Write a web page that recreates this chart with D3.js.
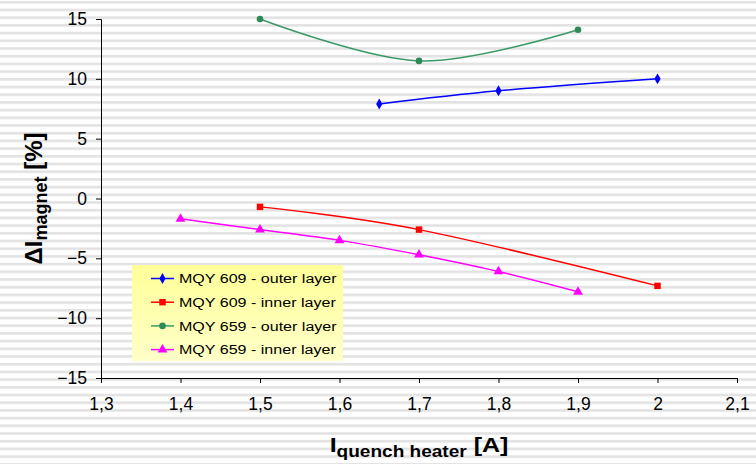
<!DOCTYPE html>
<html>
<head>
<meta charset="utf-8">
<script src="https://cdn.jsdelivr.net/npm/d3@7"></script>
<style>
  body { margin: 0; background: #fff; }
  svg { display: block; font-family: "Liberation Sans", Arial, sans-serif; }
</style>
</head>
<body>
<svg id="chart"></svg>
<script>
// Data
const seriesNames = [
  "MQY 609 - outer layer",
  "MQY 609 - inner layer",
  "MQY 659 - outer layer",
  "MQY 659 - inner layer"
];
const outer609 = [[1.65, 7.9], [1.8, 9.0], [2.0, 10.0]];
const inner609 = [[1.5, -0.7], [1.7, -2.6], [2.0, -7.3]];
const outer659 = [[1.5, 15.0], [1.7, 11.5], [1.9, 14.1]];
const inner659 = [[1.4, -1.7], [1.5, -2.6], [1.6, -3.5], [1.7, -4.7], [1.8, -6.1], [1.9, -7.8]];
const xTicks = [1.3, 1.4, 1.5, 1.6, 1.7, 1.8, 1.9, 2.0, 2.1];
const yTicks = [-15, -10, -5, 0, 5, 10, 15];

const W = 756, H = 464;
const margin = { top: 19, right: 19, bottom: 86, left: 101 };
const width = W - margin.left - margin.right;
const height = H - margin.top - margin.bottom;
const stretch = 1.19; // legend and x title text is widened horizontally

const svg = d3.select("#chart").attr("width", W).attr("height", H);

// Striped background
const defs = svg.append("defs");
const pat = defs.append("pattern")
  .attr("id", "stripes")
  .attr("patternUnits", "userSpaceOnUse")
  .attr("width", 10).attr("height", 7.7);
pat.append("rect").attr("width", 10).attr("height", 7.7).attr("fill", "#fff");
pat.append("rect").attr("y", 1).attr("width", 10).attr("height", 2.6).attr("fill", "#e2e2e2");

const legGrad = defs.append("linearGradient")
  .attr("id", "legGrad").attr("x1", 0).attr("y1", 0).attr("x2", 0).attr("y2", 1);
legGrad.append("stop").attr("offset", "0%").attr("stop-color", "#ffff99");
legGrad.append("stop").attr("offset", "100%").attr("stop-color", "#ffffc8");

svg.append("rect").attr("width", W).attr("height", H).attr("fill", "url(#stripes)");

const g = svg.append("g").attr("transform", `translate(${margin.left},${margin.top})`);

const x = d3.scaleLinear().domain([1.3, 2.1]).range([0, width]);
const y = d3.scaleLinear().domain([-15, 15]).range([height, 0]);

const fmt = d => String(+d.toFixed(1)).replace(".", ",");

// Axes
const xAxis = g.append("g")
  .attr("transform", `translate(0,${height})`)
  .call(d3.axisBottom(x).tickValues(xTicks).tickFormat(fmt).tickSize(5).tickSizeOuter(5).tickPadding(15));
const yAxis = g.append("g")
  .call(d3.axisLeft(y).tickValues(yTicks).tickSize(5).tickSizeOuter(5).tickPadding(9));

[xAxis, yAxis].forEach(a => {
  a.select(".domain").attr("stroke", "#000");
  a.selectAll(".tick line").attr("stroke", "#000");
  a.selectAll(".tick text")
    .style("font-size", "17.5px")
    .style("font-family", "'Liberation Sans', Arial, sans-serif")
    .attr("fill", "#000");
});

// Series
const series = [
  { name: seriesNames[0], data: outer609, color: "#0000ff", line: "#0000ff", marker: d3.symbolDiamond, size: 34 },
  { name: seriesNames[1], data: inner609, color: "#ff0000", line: "#ff0000", marker: d3.symbolSquare, size: 42 },
  { name: seriesNames[2], data: outer659, color: "#2e8b57", line: "#3a9966", marker: d3.symbolCircle, size: 34 },
  { name: seriesNames[3], data: inner659, color: "#ff00ff", line: "#ff00ff", marker: d3.symbolTriangle, size: 42 }
];

const line = d3.line()
  .x(d => x(d[0]))
  .y(d => y(d[1]))
  .curve(d3.curveCardinal.tension(0));

series.forEach(s => {
  g.append("path")
    .datum(s.data)
    .attr("fill", "none")
    .attr("stroke", s.line)
    .attr("stroke-width", 1.5)
    .attr("d", line);

  g.selectAll(null)
    .data(s.data)
    .enter()
    .append("path")
    .attr("transform", d => `translate(${x(d[0])},${y(d[1])})`)
    .attr("d", d3.symbol().type(s.marker).size(s.size))
    .attr("fill", s.color);
});

// Legend
const legend = svg.append("g").attr("transform", "translate(132,265)");
legend.append("rect")
  .attr("width", 211).attr("height", 96)
  .attr("fill", "url(#legGrad)");

series.forEach((s, i) => {
  const row = legend.append("g").attr("transform", `translate(0,${13.5 + i * 23.7})`);
  row.append("line")
    .attr("x1", 19).attr("x2", 42)
    .attr("stroke", s.line).attr("stroke-width", 1.5);
  row.append("path")
    .attr("transform", "translate(30.5,0)")
    .attr("d", d3.symbol().type(s.marker).size(s.size))
    .attr("fill", s.color);
  row.append("text")
    .attr("transform", `translate(47,0) scale(${stretch},1)`)
    .attr("dy", "0.36em")
    .attr("font-size", 13.5)
    .attr("fill", "#000")
    .text(s.name);
});

// Axis titles
const xTitle = svg.append("text")
  .attr("transform", `translate(${margin.left + width / 2},452) scale(${stretch},1)`)
  .attr("text-anchor", "middle")
  .attr("font-weight", "bold")
  .attr("font-size", 21);
xTitle.append("tspan").text("I");
xTitle.append("tspan").attr("font-size", 16).attr("dy", 5).text("quench heater");
xTitle.append("tspan").attr("dy", -5).text(" [A]");

const yTitle = svg.append("text")
  .attr("transform", `translate(42,${margin.top + y(0)}) rotate(-90)`)
  .attr("text-anchor", "middle")
  .attr("font-weight", "bold")
  .attr("font-size", 24);
yTitle.append("tspan").text("ΔI");
yTitle.append("tspan").attr("font-size", 18).attr("dy", 5).text("magnet");
yTitle.append("tspan").attr("dy", -5).text(" [%]");
</script>
</body>
</html>
